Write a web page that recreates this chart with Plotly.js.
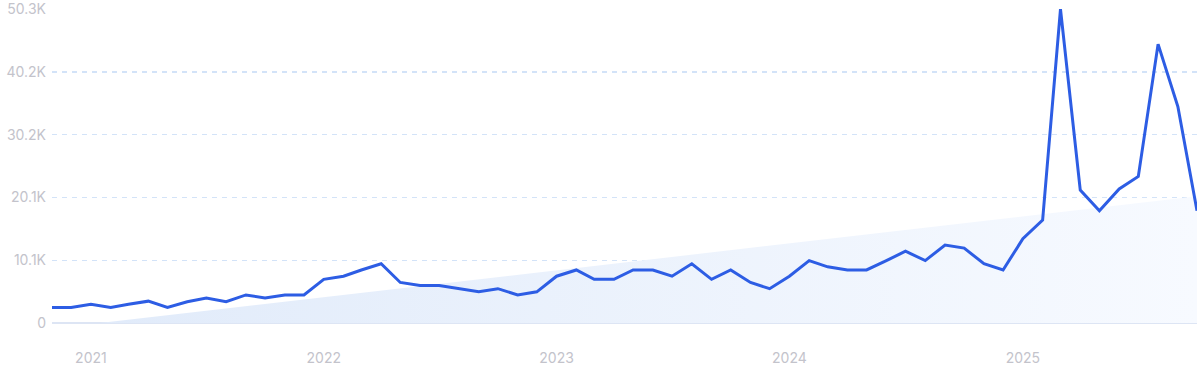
<!DOCTYPE html>
<html>
<head>
<meta charset="utf-8">
<script src="https://cdn.plot.ly/plotly-3.0.1.min.js"></script>
<style>
  html, body { margin: 0; padding: 0; background: #ffffff; }
  #chart { width: 1200px; height: 372px; }
</style>
</head>
<body>
<div id="chart"></div>
<script>
const months = [
  '2020-11-01','2020-12-01',
  '2021-01-01','2021-02-01','2021-03-01','2021-04-01','2021-05-01','2021-06-01',
  '2021-07-01','2021-08-01','2021-09-01','2021-10-01','2021-11-01','2021-12-01',
  '2022-01-01','2022-02-01','2022-03-01','2022-04-01','2022-05-01','2022-06-01',
  '2022-07-01','2022-08-01','2022-09-01','2022-10-01','2022-11-01','2022-12-01',
  '2023-01-01','2023-02-01','2023-03-01','2023-04-01','2023-05-01','2023-06-01',
  '2023-07-01','2023-08-01','2023-09-01','2023-10-01','2023-11-01','2023-12-01',
  '2024-01-01','2024-02-01','2024-03-01','2024-04-01','2024-05-01','2024-06-01',
  '2024-07-01','2024-08-01','2024-09-01','2024-10-01','2024-11-01','2024-12-01',
  '2025-01-01','2025-02-01','2025-03-01','2025-04-01','2025-05-01','2025-06-01',
  '2025-07-01','2025-08-01','2025-09-01','2025-10-01'
];
const searches = [
  2500, 2500,
  3000, 2500, 3000, 3500, 2500, 3400, 4000, 3400, 4500, 4000, 4500, 4500,
  7000, 7500, 8500, 9500, 6500, 6000, 6000, 5500, 5000, 5500, 4500, 5000,
  7500, 8500, 7000, 7000, 8500, 8500, 7500, 9500, 7000, 8500, 6500, 5500,
  7500, 10000, 9000, 8500, 8500, 10000, 11500, 10000, 12500, 12000, 9500, 8500,
  13500, 16500, 50300, 21300, 18000, 21500, 23500, 44700, 34700, 18000
];
const trendDates = ['2021-01-15', '2025-10-01'];
const trendValues = [0, 20300];
const yTickVals = [0, 10060, 20120, 30180, 40240, 50300];
const yTickText = ['0', '10.1K', '20.1K', '30.2K', '40.2K', '50.3K'];
const xTickVals = ['2021-01-01', '2022-01-01', '2023-01-01', '2024-01-01', '2025-01-01'];
const xTickText = ['2021', '2022', '2023', '2024', '2025'];

const traces = [
  {
    x: trendDates, y: trendValues, type: 'scatter', mode: 'lines',
    line: { width: 0, color: 'rgba(0,0,0,0)' },
    fill: 'tozeroy',
    fillgradient: { type: 'horizontal', colorscale: [[0, '#e1ebfa'], [1, '#f7faff']] },
    hoverinfo: 'skip', showlegend: false
  },
  {
    x: months, y: searches, type: 'scatter', mode: 'lines',
    line: { color: '#2d5de4', width: 3 },
    showlegend: false
  }
];

const layout = {
  width: 1200, height: 372,
  margin: { l: 52, r: 3, t: 9, b: 49 },
  paper_bgcolor: '#ffffff', plot_bgcolor: '#ffffff',
  font: { family: 'Inter, "Open Sans", sans-serif', color: '#c3c3cb', size: 14 },
  xaxis: {
    type: 'date',
    range: ['2020-11-01', '2025-10-01'],
    tickvals: xTickVals, ticktext: xTickText,
    showgrid: false, zeroline: false, showline: false,
    ticks: '', ticklabelstandoff: 25,
    tickfont: { size: 14, color: '#c3c3cb' }
  },
  yaxis: {
    range: [0, 50330],
    tickvals: yTickVals, ticktext: yTickText,
    showgrid: true, gridcolor: '#d3e3f8', griddash: '5px,5px', gridwidth: 1.2,
    zeroline: true, zerolinecolor: '#dde5f4', zerolinewidth: 1.5,
    showline: false, ticks: '', ticklabelstandoff: 5,
    tickfont: { size: 14, color: '#c3c3cb' }
  }
};

Plotly.newPlot('chart', traces, layout, { displayModeBar: false, staticPlot: true });
</script>
</body>
</html>
